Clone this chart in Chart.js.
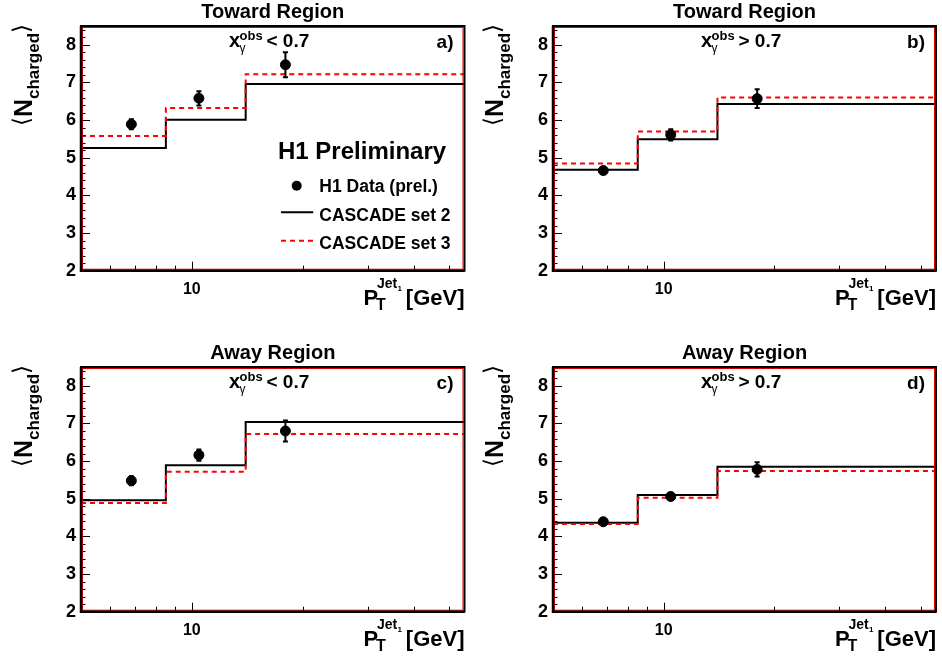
<!DOCTYPE html>
<html><head><meta charset="utf-8">
<script src="https://cdn.jsdelivr.net/npm/chart.js@4/dist/chart.umd.min.js"></script>
<style>
html,body{margin:0;padding:0;background:#fff;width:942px;height:657px;overflow:hidden}
canvas{position:absolute}
</style></head><body>
<canvas id="ca" width="471" height="316" style="left:0;top:0"></canvas>
<canvas id="cb" width="471" height="316" style="left:471px;top:0"></canvas>
<canvas id="cc" width="471" height="316" style="left:0;top:341px"></canvas>
<canvas id="cd" width="471" height="316" style="left:471px;top:341px"></canvas>
<script>
// ---- data ----
const binEdges = [5, 8.5, 14, 55];
const dataX = [6.85, 10.45, 17.95];
const panelTitles = ['Toward Region', 'Toward Region', 'Away Region', 'Away Region'];
const panelCuts = ['< 0.7', '> 0.7', '< 0.7', '> 0.7'];
const panelTags = ['a)', 'b)', 'c)', 'd)'];
const yTickLabels = [2, 3, 4, 5, 6, 7, 8];
const xTickLabels = [10];
const xMinorTicks = [6, 7, 8, 9, 20, 30, 40, 50];
const seriesNames = ['H1 Data (prel.)', 'CASCADE set 2', 'CASCADE set 3'];

const dataA = [5.89, 6.58, 7.47], errA = [0.13, 0.19, 0.33];
const cas2A = [5.26, 6.01, 6.96], cas3A = [5.58, 6.32, 7.22];
const dataB = [4.66, 5.61, 6.57], errB = [0.08, 0.15, 0.25];
const cas2B = [4.68, 5.49, 6.43], cas3B = [4.85, 5.70, 6.60];
const dataC = [5.48, 6.16, 6.80], errC = [0.12, 0.15, 0.28];
const cas2C = [4.96, 5.89, 7.04], cas3C = [4.89, 5.72, 6.72];
const dataD = [4.39, 5.06, 5.78], errD = [0.07, 0.09, 0.19];
const cas2D = [4.36, 5.10, 5.85], cas3D = [4.33, 5.03, 5.74];

const FONT = '"Liberation Sans", Arial, Helvetica, sans-serif';
const fb = s => `bold ${s}px ${FONT}`;

const yTickVals = [];
for (let i = 0; i <= 32; i++) yTickVals.push(+(2 + i * 0.2).toFixed(1));

function stepData(vals) {
  return binEdges.map((e, i) => ({x: e, y: vals[Math.min(i, vals.length - 1)]}));
}

function drawText(ctx, t, x, y, font, align) {
  ctx.font = font; ctx.textAlign = align || 'left'; ctx.textBaseline = 'alphabetic';
  ctx.fillText(t, x, y);
  return ctx.measureText(t).width;
}

const h1Plugin = {
  id: 'h1deco',
  afterDatasetsDraw(chart) {
    const o = chart.options.plugins.h1deco;
    const ctx = chart.ctx;
    const ca = chart.chartArea;
    const xs = chart.scales.x, ys = chart.scales.y;
    const L = ca.left, R = ca.right, T = ca.top, B = ca.bottom;
    ctx.save();
    // error bars
    const ds = chart.data.datasets[0];
    ctx.strokeStyle = '#000'; ctx.lineWidth = 2;
    ds.data.forEach((p, i) => {
      const px = xs.getPixelForValue(p.x);
      const y1 = ys.getPixelForValue(p.y - ds.errors[i]);
      const y2 = ys.getPixelForValue(p.y + ds.errors[i]);
      ctx.beginPath(); ctx.moveTo(px, y1); ctx.lineTo(px, y2); ctx.stroke();
      ctx.beginPath(); ctx.moveTo(px - 2.5, y1); ctx.lineTo(px + 2.5, y1);
      ctx.moveTo(px - 2.5, y2); ctx.lineTo(px + 2.5, y2); ctx.stroke();
    });
    // inner ticks
    ctx.strokeStyle = '#000'; ctx.lineWidth = 1;
    ys.ticks.forEach(t => {
      const py = Math.round(ys.getPixelForValue(t.value)) + 0.5;
      const major = yTickLabels.includes(t.value);
      ctx.beginPath(); ctx.moveTo(L, py); ctx.lineTo(L + (major ? 9 : 4.5), py); ctx.stroke();
    });
    xs.ticks.forEach(t => {
      const px = Math.round(xs.getPixelForValue(t.value)) + 0.5;
      const major = xTickLabels.includes(t.value);
      ctx.beginPath(); ctx.moveTo(px, B); ctx.lineTo(px, B - (major ? 9 : 5)); ctx.stroke();
    });
    // frame
    ctx.strokeStyle = '#000'; ctx.lineWidth = 2;
    ctx.strokeRect(L, T, R - L, B - T);
    ctx.strokeStyle = '#e00000'; ctx.lineWidth = 1;
    ctx.strokeRect(L + 1.5, T + 1.5, R - L - 3, B - T - 3);
    ctx.strokeStyle = '#000'; ctx.lineWidth = 2.5;
    ctx.beginPath(); ctx.moveTo(L, T); ctx.lineTo(L, B); ctx.lineTo(R, B); ctx.stroke();

    ctx.fillStyle = '#000';
    // cut text
    drawText(ctx, 'x', L + 148, T + 21, fb(20));
    drawText(ctx, 'obs', L + 158.5, T + 14, fb(13));
    drawText(ctx, 'γ', L + 158.5, T + 25.5, `12px ${FONT}`);
    drawText(ctx, o.cut, L + 185.5, T + 21, fb(19));
    // tag
    drawText(ctx, o.tag, R - 11, T + 22, fb(19), 'right');
    // x title
    drawText(ctx, 'P', R - 101, B + 34.3, fb(22));
    drawText(ctx, 'T', R - 88.5, B + 39.5, fb(16));
    drawText(ctx, 'Jet', R - 87.5, B + 17.5, fb(14));
    drawText(ctx, '1', R - 67, B + 20.5, fb(8));
    drawText(ctx, '[GeV]', R, B + 34.3, fb(22), 'right');
    // y title (rotated)
    ctx.save();
    ctx.translate(25, 75); ctx.rotate(-Math.PI / 2);
    const parts = [
      {t: '⟨', f: `23px "DejaVu Sans"`, dy: 4},
      {t: 'N', f: fb(25), dy: 7},
      {t: 'charged', f: fb(17), dy: 14},
      {t: '⟩', f: `23px "DejaVu Sans"`, dy: 4}
    ];
    let total = 0;
    parts.forEach(p => { ctx.font = p.f; p.w = ctx.measureText(p.t).width; total += p.w; });
    let cx = -total / 2;
    parts.forEach(p => { drawText(ctx, p.t, cx, p.dy, p.f); cx += p.w; });
    ctx.restore();

    // legend
    if (o.legend) {
      const d = chart.data.datasets;
      drawText(ctx, 'H1 Preliminary', L + 197, T + 133.3, fb(24));
      ctx.beginPath(); ctx.arc(L + 215.7, T + 159.7, 5, 0, Math.PI * 2);
      ctx.fillStyle = d[0].backgroundColor; ctx.fill();
      ctx.fillStyle = '#000';
      drawText(ctx, d[0].label, L + 238.3, T + 165.7, fb(17.5));
      const lineItem = (dsi, y, ty) => {
        ctx.save();
        ctx.strokeStyle = d[dsi].borderColor; ctx.lineWidth = d[dsi].borderWidth;
        ctx.setLineDash(d[dsi].borderDash || []);
        ctx.beginPath(); ctx.moveTo(L + 200, y); ctx.lineTo(L + 232.3, y); ctx.stroke();
        ctx.restore();
        drawText(ctx, d[dsi].label, L + 238.3, ty, fb(17.5));
      };
      lineItem(2, T + 186.3, T + 195);
      lineItem(1, T + 214.7, T + 223.3);
    }
    ctx.restore();
  }
};

function makePanel(id, idx, vals, errs, c2, c3, axisW, padR) {
  new Chart(document.getElementById(id), {
    type: 'line',
    data: {
      datasets: [
        {label: seriesNames[0], type: 'scatter', data: dataX.map((x, i) => ({x, y: vals[i]})),
         errors: errs, pointRadius: 5, pointHoverRadius: 5, backgroundColor: '#000', borderColor: '#000', showLine: false},
        {label: seriesNames[2], data: stepData(c3), stepped: 'before', borderColor: '#ff0000', borderWidth: 2,
         borderDash: [5, 4], pointRadius: 0, fill: false},
        {label: seriesNames[1], data: stepData(c2), stepped: 'before', borderColor: '#000', borderWidth: 2,
         pointRadius: 0, fill: false}
      ]
    },
    options: {
      responsive: false, animation: false, devicePixelRatio: 1,
      layout: {padding: {left: 0, right: padR, top: 0, bottom: 0}},
      plugins: {
        legend: {display: false}, tooltip: {enabled: false},
        title: {display: true, text: panelTitles[idx], fullSize: false, color: '#000',
                font: {family: FONT, size: 20, weight: 'bold'}, padding: {top: 0, bottom: 2}},
        h1deco: {cut: panelCuts[idx], tag: panelTags[idx], legend: idx === 0}
      },
      scales: {
        x: {type: 'logarithmic', min: binEdges[0], max: binEdges[binEdges.length - 1],
            afterFit: s => { s.height = 45.3; },
            afterBuildTicks: s => { s.ticks = [...xMinorTicks, ...xTickLabels].sort((a, b) => a - b).map(v => ({value: v})); },
            ticks: {autoSkip: false, maxRotation: 0, minRotation: 0, padding: 9, color: '#000',
                    font: {family: FONT, size: 16, weight: 'bold'},
                    callback: v => xTickLabels.includes(v) ? String(v) : ''},
            grid: {display: false, drawTicks: false}, border: {display: false}},
        y: {type: 'linear', min: 2, max: 8.5,
            afterFit: s => { s.width = axisW; },
            afterBuildTicks: s => { s.ticks = yTickVals.map(v => ({value: v})); },
            ticks: {autoSkip: false, padding: 5, color: '#000', font: {family: FONT, size: 18, weight: 'bold'},
                    callback: v => yTickLabels.includes(v) ? String(v) : ''},
            grid: {display: false, drawTicks: false}, border: {display: false}}
      }
    },
    plugins: [h1Plugin]
  });
}

makePanel('ca', 0, dataA, errA, cas2A, cas3A, 81, 6.5);
makePanel('cb', 1, dataB, errB, cas2B, cas3B, 82, 5);
makePanel('cc', 2, dataC, errC, cas2C, cas3C, 81, 6.5);
makePanel('cd', 3, dataD, errD, cas2D, cas3D, 82, 5);
</script>
</body></html>
